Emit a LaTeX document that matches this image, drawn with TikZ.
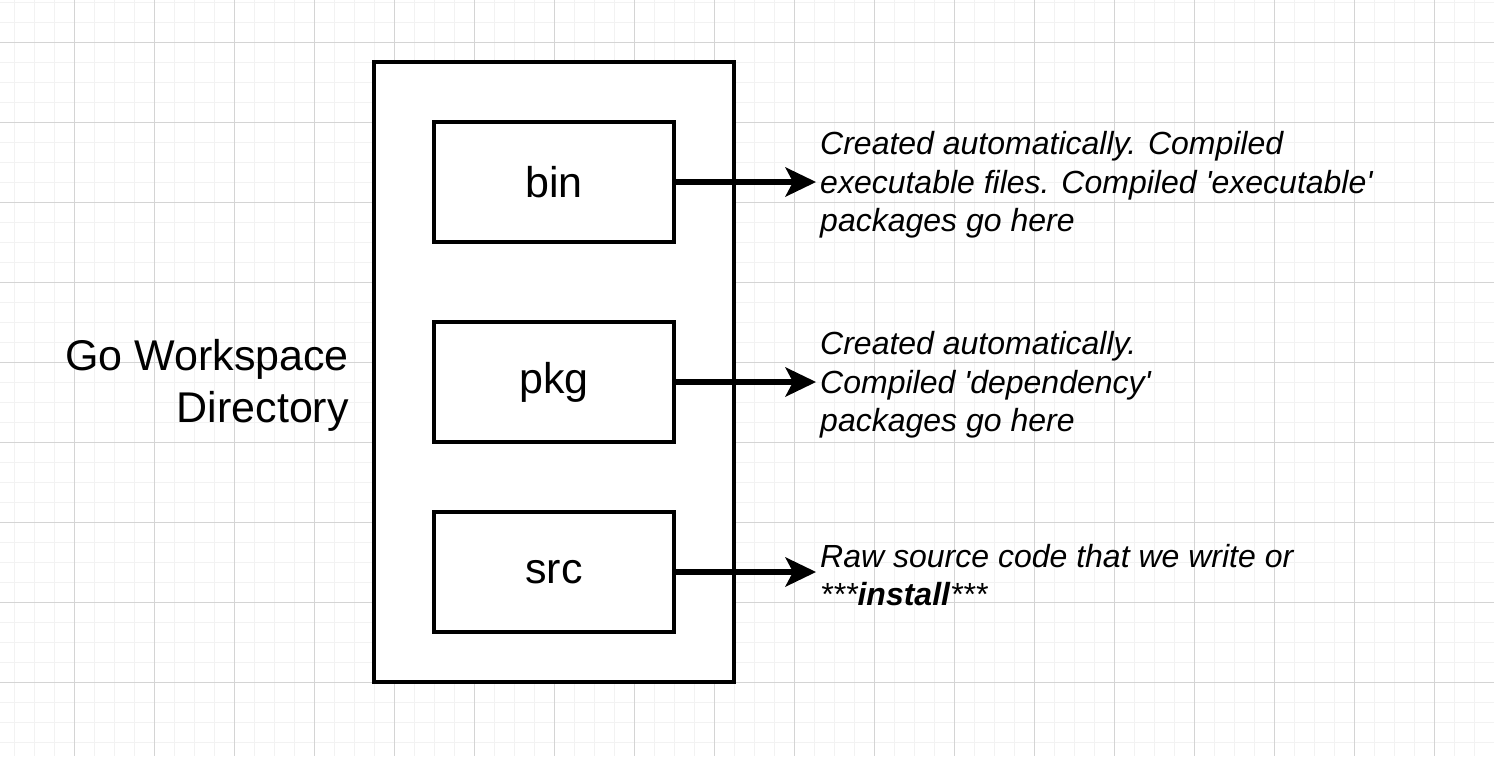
\documentclass[tikz,border=0pt]{standalone}
\usepackage{fontspec}
\newfontfamily\arialfont{Liberation Sans}
\usetikzlibrary{arrows.meta}
\definecolor{minorgrid}{HTML}{F2F2F2}
\definecolor{majorgrid}{HTML}{D4D4D4}
\tikzset{
  dirbox/.style={draw=black, line width=3.8pt, fill=white, minimum width=240pt, minimum height=120pt, inner sep=0pt, font=\arialfont\fontsize{43}{52}\selectfont},
  outerbox/.style={draw=black, line width=3.8pt, fill=white, minimum width=360pt, minimum height=620pt, inner sep=0pt},
  note/.style={anchor=west, align=left, inner xsep=4pt, inner ysep=0pt, font=\arialfont\itshape\fontsize{32}{38.5}\selectfont},
  pointer/.style={line width=5.5pt, -{Stealth[length=31pt, width=30pt, inset=8pt, line width=0pt]}}
}
\begin{document}
\begin{tikzpicture}[x=1pt, y=-1pt]
\useasboundingbox (0,0) rectangle (1494,756);
\fill[white] (0,0) rectangle (1494,756);
\foreach \gx in {14,34,...,1494} \draw[minorgrid, line width=1pt] (\gx,0) -- (\gx,756);
\foreach \gy in {2,22,...,756} \draw[minorgrid, line width=1pt] (0,\gy) -- (1494,\gy);
\foreach \gx in {74,154,...,1494} \draw[majorgrid, line width=1pt] (\gx,0) -- (\gx,756);
\foreach \gy in {42,122,...,756} \draw[majorgrid, line width=1pt] (0,\gy) -- (1494,\gy);

\node[outerbox] (ws) at (554,372) {};
\node[dirbox] (bin) at (554,182) {bin};
\node[dirbox] (pkg) at (554,382) {pkg};
\node[dirbox] (src) at (554,572) {src};

\node[anchor=east, align=right, inner sep=0pt, font=\arialfont\fontsize{43}{52}\selectfont] (title) at (349,385) {Go Workspace\\Directory};

\node[note] (nbin) at (816,185) {Created automatically. Compiled\\executable files. Compiled 'executable'\\packages go here};
\node[note] (npkg) at (816,385) {Created automatically.\\Compiled 'dependency'\\packages go here};
\node[note] (nsrc) at (816,575) {Raw source code that we write or\\***\textbf{install}***};

\draw[pointer] (bin.east) -- (bin.east -| nbin.west);
\draw[pointer] (pkg.east) -- (pkg.east -| npkg.west);
\draw[pointer] (src.east) -- (src.east -| nsrc.west);
\end{tikzpicture}
\end{document}
